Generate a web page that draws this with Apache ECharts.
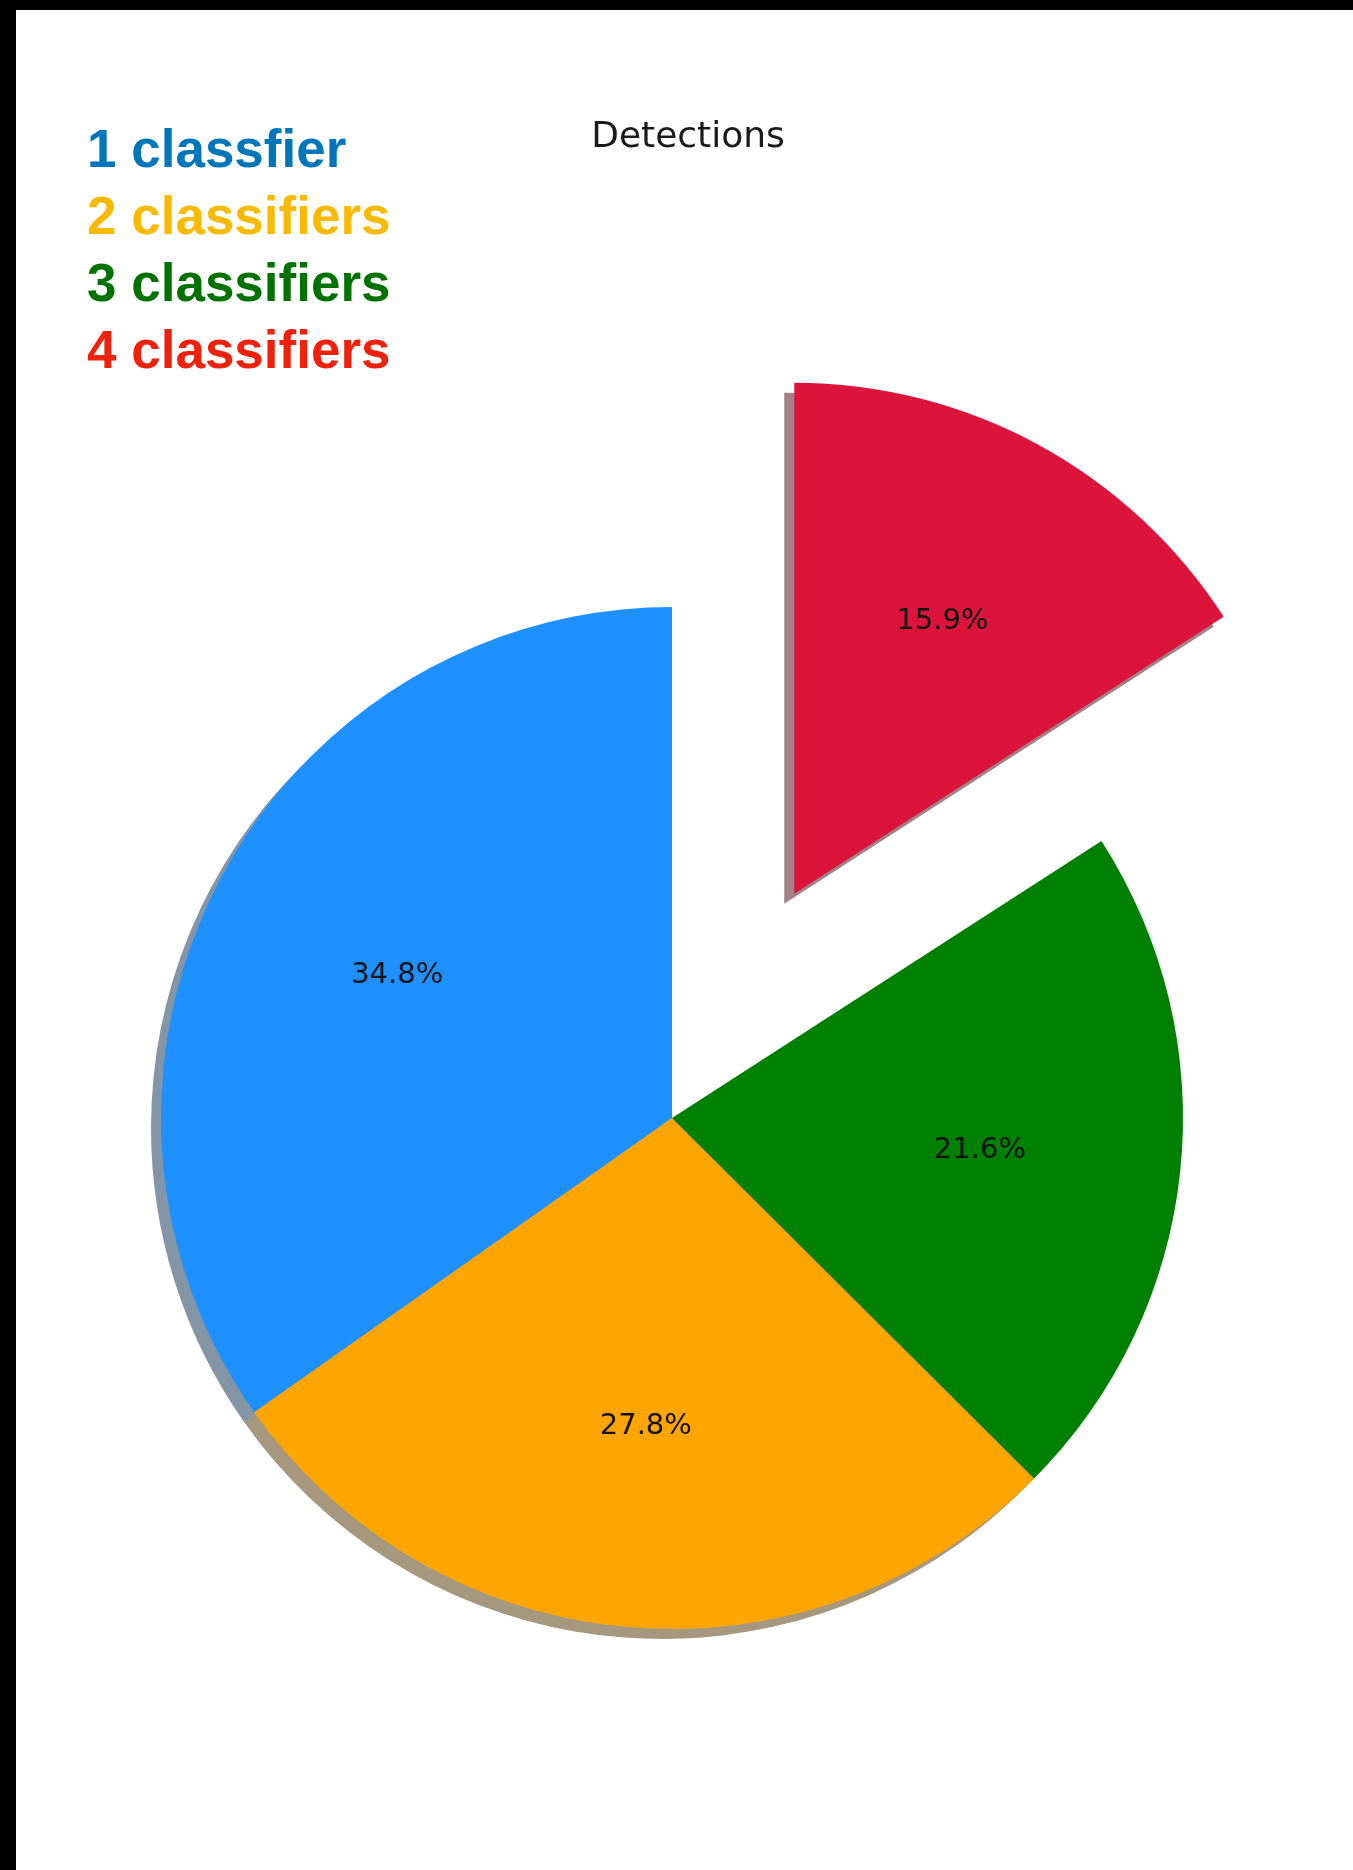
<!DOCTYPE html>
<html>
<head>
<meta charset="utf-8">
<title>Detections</title>
<script src="https://cdn.jsdelivr.net/npm/echarts@6/dist/echarts.min.js"></script>
<style>
  html, body { margin: 0; padding: 0; background: #fff; }
  #chart { position: absolute; left: 0; top: 0; width: 1353px; height: 1870px; }
  .frame { position: absolute; background: #000; }
</style>
</head>
<body>
<div id="chart"></div>
<div class="frame" style="left:0;top:0;width:1353px;height:10px"></div>
<div class="frame" style="left:0;top:0;width:16px;height:1870px"></div>
<script>
// Share of detections by number of agreeing classifiers
const categories = ['1 classfier', '2 classifiers', '3 classifiers', '4 classifiers'];
const shares = [34.8, 27.8, 21.6, 15.9];
const explode = [0, 0, 0, 0.5];
const sliceColors = ['#1E90FF', '#FFA500', '#008000', '#DC143C'];
const legendColors = ['#0076BA', '#F8BA00', '#017100', '#EE220C'];
const chartTitle = 'Detections';

// Pie geometry (pixels)
const R = 511, CX = 672, CY = 1118;
const SHADOW_OFFSET = [-10, 10];
const PCT_DISTANCE = 0.6;

const total = shares.reduce((a, b) => a + b, 0);

function midAngle(i) {
  let before = 0;
  for (let k = 0; k < i; k++) before += shares[k];
  return (90 + 360 * (before + shares[i] / 2) / total) * Math.PI / 180;
}
function sliceCenter(i) {
  const a = midAngle(i), d = explode[i] * R;
  return [CX + d * Math.cos(a), CY - d * Math.sin(a)];
}
function shadowColor(hex) {
  const n = parseInt(hex.slice(1), 16);
  const r = (n >> 16) & 255, g = (n >> 8) & 255, b = n & 255;
  return 'rgba(' + Math.round(r * 0.3) + ',' + Math.round(g * 0.3) + ',' + Math.round(b * 0.3) + ',0.5)';
}

// One pie layer where only slice i is painted (the rest stay transparent)
function layer(i, center, radius, color, z, withLabel) {
  return {
    type: 'pie',
    z: z,
    center: center,
    radius: [0, radius],
    startAngle: 90,
    clockwise: false,
    silent: true,
    animation: false,
    avoidLabelOverlap: false,
    data: shares.map((v, k) => ({
      name: categories[k],
      value: v,
      itemStyle: { color: k === i ? color : 'rgba(0,0,0,0)', borderWidth: 0 },
      label: { show: withLabel && k === i }
    })),
    label: {
      position: 'inside',
      formatter: p => p.value.toFixed(1) + '%',
      fontFamily: 'DejaVu Sans',
      fontSize: 29,
      color: '#111'
    },
    labelLine: { show: false },
    emphasis: { disabled: true }
  };
}

const series = [];
shares.forEach((v, i) => {
  const c = sliceCenter(i);
  series.push(layer(i, [c[0] + SHADOW_OFFSET[0], c[1] + SHADOW_OFFSET[1]], R, shadowColor(sliceColors[i]), 1, false));
  series.push(layer(i, c, R, sliceColors[i], 2, false));
  series.push(layer(i, c, R * 2 * PCT_DISTANCE, 'rgba(0,0,0,0)', 3, true));
});

const graphic = [{
  type: 'text',
  x: 688, y: 138,
  style: {
    text: chartTitle,
    fill: '#1a1a1a',
    font: '36px "DejaVu Sans"',
    align: 'center',
    verticalAlign: 'middle'
  }
}];
categories.forEach((name, k) => {
  graphic.push({
    type: 'text',
    x: 87, y: 152 + 67 * k,
    style: {
      text: name,
      fill: legendColors[k],
      font: 'bold 53px "Liberation Sans"',
      align: 'left',
      verticalAlign: 'middle'
    }
  });
});

const chart = echarts.init(document.getElementById('chart'), null, { renderer: 'canvas' });
chart.setOption({
  backgroundColor: '#fff',
  animation: false,
  graphic: graphic,
  series: series
});
</script>
</body>
</html>
